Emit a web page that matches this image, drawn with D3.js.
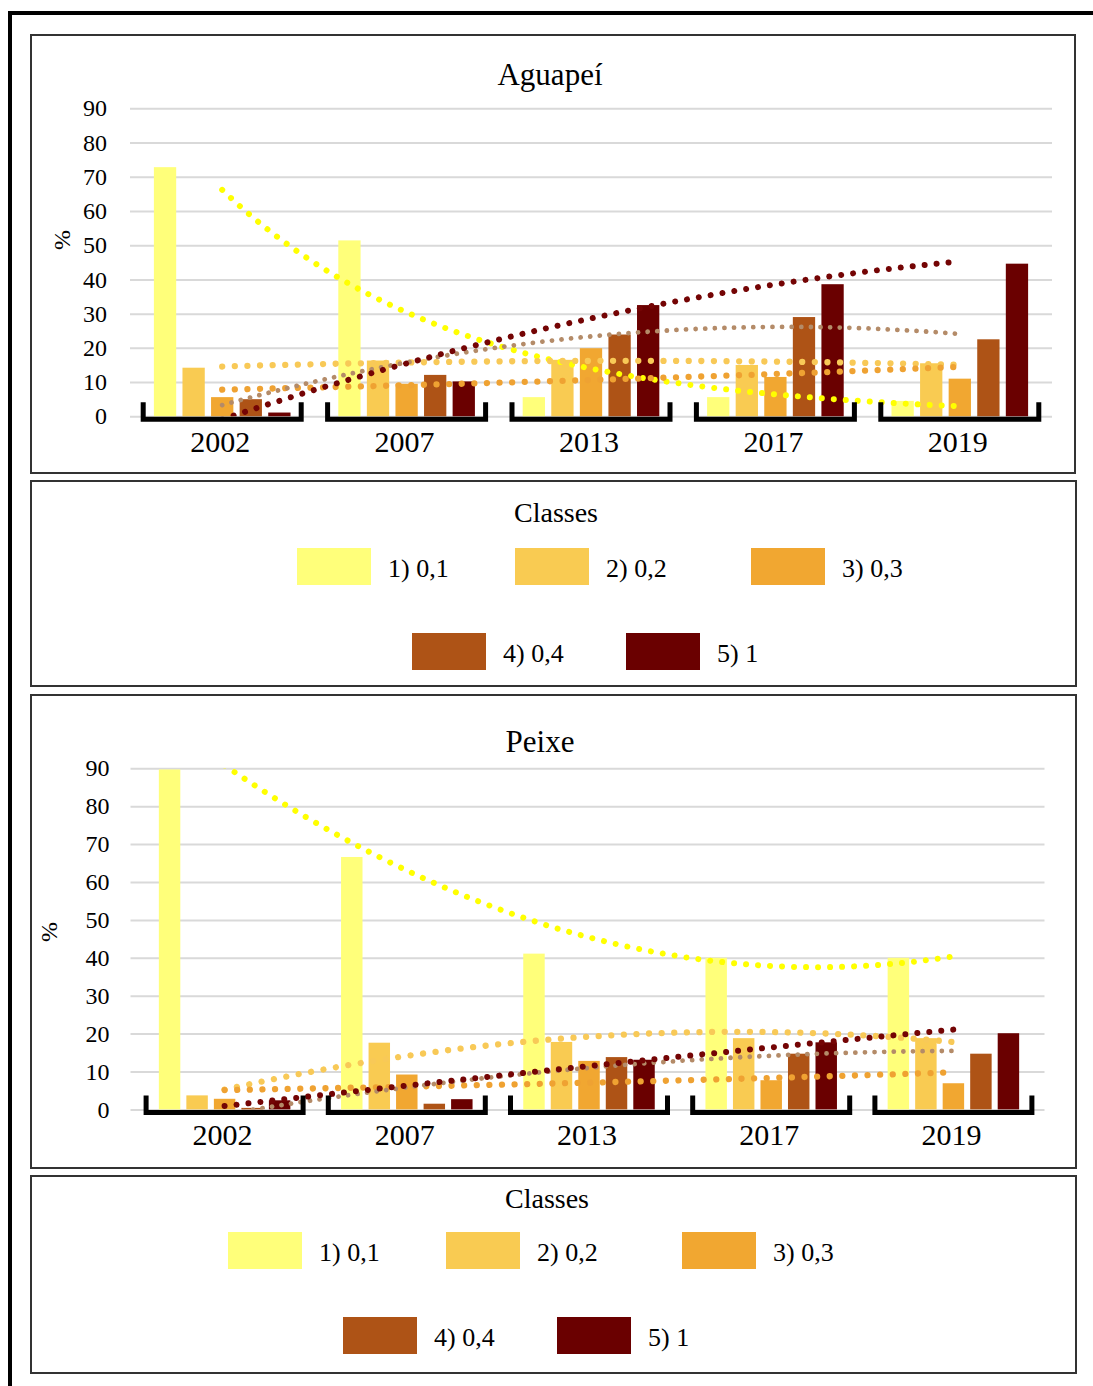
<!DOCTYPE html>
<html>
<head>
<meta charset="utf-8">
<script src="https://cdn.jsdelivr.net/npm/d3@7"></script>
<style>
  body { margin: 0; background: #fff; }
  text { font-family: "Liberation Serif", "Times New Roman", serif; fill: #000; }
</style>
</head>
<body>
<svg id="fig" width="1093" height="1386"></svg>
<script>
// ---- data -------------------------------------------------------------
const years = ["2002", "2007", "2013", "2017", "2019"];
const classes = ["1) 0,1", "2) 0,2", "3) 0,3", "4) 0,4", "5) 1"];
const classColors = ["#FFFF7A", "#F9CB52", "#F1A731", "#AE5316", "#6A0000"];
const trendColors = ["#FFFF00", "#F8C957", "#EFA232", "#B48B68", "#740404"];
const trendWidths = [6, 6.3, 6.3, 4.8, 6];
const yTicks = [0, 10, 20, 30, 40, 50, 60, 70, 80, 90];

// Aguapeí — share (%) of each class per year
const aguapeiClass1 = [72.8, 51.4, 5.6, 5.6, 4.5];
const aguapeiClass2 = [14.2, 16.3, 16.5, 15.0, 15.5];
const aguapeiClass3 = [5.6, 9.5, 19.9, 11.5, 11.0];
const aguapeiClass4 = [5.0, 12.1, 23.9, 29.0, 22.5];
const aguapeiClass5 = [1.1, 10.2, 32.5, 38.6, 44.6];
const aguapeiTrendTypes = ["exp", "poly2", "exp", "poly2", "poly2"];

// Peixe — share (%) of each class per year
const peixeClass1 = [89.7, 66.6, 41.1, 40.0, 40.0];
const peixeClass2 = [3.7, 17.6, 17.8, 18.8, 18.8];
const peixeClass3 = [2.8, 9.2, 12.8, 7.7, 6.9];
const peixeClass4 = [0.4, 1.5, 13.8, 14.7, 14.7];
const peixeClass5 = [2.4, 2.7, 13.1, 17.7, 20.1];
const peixeTrendTypes = ["poly2", "poly2", "exp", "poly2", "poly2"];

// ---- regression helpers (trendlines) ---------------------------------
function linreg(xs, ys) {
  const mx = d3.mean(xs), my = d3.mean(ys);
  let sxy = 0, sxx = 0;
  xs.forEach((x, i) => { sxy += (x - mx) * (ys[i] - my); sxx += (x - mx) ** 2; });
  const b = sxy / sxx;
  return [my - b * mx, b];
}
function solve3(A, r) {
  const M = A.map((row, i) => [...row, r[i]]);
  for (let c = 0; c < 3; c++) {
    let p = c;
    for (let k = c + 1; k < 3; k++) if (Math.abs(M[k][c]) > Math.abs(M[p][c])) p = k;
    [M[c], M[p]] = [M[p], M[c]];
    for (let k = 0; k < 3; k++) {
      if (k === c) continue;
      const f = M[k][c] / M[c][c];
      for (let j = c; j < 4; j++) M[k][j] -= f * M[c][j];
    }
  }
  return M.map((row, i) => row[3] / row[i]);
}
function fitTrend(vals, type) {
  const xs = vals.map((_, i) => i + 1);
  if (type === "exp") {
    const [a, b] = linreg(xs, vals.map(Math.log));
    return t => Math.exp(a + b * t);
  }
  const S = k => d3.sum(xs, x => x ** k);
  const Sy = k => d3.sum(xs, (x, i) => x ** k * vals[i]);
  const [c0, c1, c2] = solve3(
    [[S(0), S(1), S(2)], [S(1), S(2), S(3)], [S(2), S(3), S(4)]],
    [Sy(0), Sy(1), Sy(2)]
  );
  return t => c0 + c1 * t + c2 * t * t;
}

// ---- drawing ------------------------------------------------------------
const svg = d3.select("#fig");

// page frame (thick rule at top and left)
svg.append("rect").attr("x", 8).attr("y", 11).attr("width", 1085).attr("height", 4).attr("fill", "#000");
svg.append("rect").attr("x", 8).attr("y", 11).attr("width", 4).attr("height", 1375).attr("fill", "#000");

function panel(g, x, y, w, h) {
  g.append("rect").attr("x", x).attr("y", y).attr("width", w).attr("height", h)
    .attr("fill", "#fff").attr("stroke", "#333").attr("stroke-width", 2);
}

function drawChart(cfg) {
  const g = svg.append("g");
  panel(g, cfg.box.x, cfg.box.y, cfg.box.w, cfg.box.h);

  const series = cfg.series;
  const y = d3.scaleLinear().domain([0, 90]).range([cfg.plot.bottom, cfg.plot.top]);
  const x0 = d3.scaleBand().domain(years).range([cfg.plot.left, cfg.plot.right]);
  const gw = x0.bandwidth() * cfg.groupFrac;
  const x1 = d3.scaleBand().domain(classes).range([-gw / 2, gw / 2])
    .paddingInner(0.22).paddingOuter(0.11);

  // gridlines + value labels
  const axis = d3.axisLeft(y).tickValues(yTicks)
    .tickSize(-(cfg.plot.right - cfg.plot.left + cfg.gridExtra))
    .tickPadding(cfg.tickPad);
  const ag = g.append("g").attr("transform", `translate(${cfg.plot.left - cfg.gridExtra},0)`).call(axis);
  ag.select(".domain").remove();
  ag.selectAll(".tick line").attr("stroke", "#D9D9D9").attr("stroke-width", 2);
  ag.selectAll(".tick text").attr("font-size", 24).attr("fill", "#000")
    .style("font-family", '"Liberation Serif", serif');

  // bars
  const bg = g.append("g");
  years.forEach((yr, j) => {
    const cx = x0(yr) + x0.bandwidth() / 2;
    classes.forEach((cl, i) => {
      const v = series[i][j];
      bg.append("rect")
        .attr("x", cx + x1(cl))
        .attr("width", x1.bandwidth())
        .attr("y", y(v))
        .attr("height", y(0) - y(v))
        .attr("fill", classColors[i]);
    });
  });

  // trendlines, clipped to the plot area
  const clipId = cfg.id + "-clip";
  g.append("clipPath").attr("id", clipId).append("rect")
    .attr("x", cfg.plot.left).attr("y", y(90))
    .attr("width", cfg.plot.right - cfg.plot.left).attr("height", y(0) - y(90));
  const xt = d3.scaleLinear().domain([1, years.length])
    .range([x0(years[0]) + x0.bandwidth() / 2, x0(years[years.length - 1]) + x0.bandwidth() / 2]);
  const tg = g.append("g").attr("clip-path", `url(#${clipId})`);
  const ts = d3.range(1, 5.0001, 0.02);
  const line = d3.line().x(d => xt(d[0])).y(d => y(d[1]));
  series.forEach((vals, i) => {
    const f = fitTrend(vals, cfg.trendTypes[i]);
    const w = trendWidths[i];
    tg.append("path")
      .attr("d", line(ts.map(t => [t, Math.max(-5, Math.min(95, f(t)))])))
      .attr("fill", "none")
      .attr("stroke", trendColors[i])
      .attr("stroke-width", w)
      .attr("stroke-linecap", "round")
      .attr("stroke-dasharray", `0.01 ${2 * w}`);
  });

  // category brackets + year labels
  const base = y(0);
  years.forEach(yr => {
    const cx = x0(yr) + x0.bandwidth() / 2;
    const half = cfg.bracketHalf;
    g.append("path")
      .attr("d", `M${cx - half},${base - 14}V${base + 3}H${cx + half}V${base - 14}`)
      .attr("fill", "none").attr("stroke", "#000").attr("stroke-width", 5)
      .attr("stroke-linejoin", "miter");
    g.append("text").attr("x", cx - 2).attr("y", base + 36)
      .attr("text-anchor", "middle").attr("font-size", 30).text(yr);
  });

  // title and axis label
  g.append("text").attr("x", cfg.title.x).attr("y", cfg.title.y)
    .attr("text-anchor", "middle").attr("font-size", 31).text(cfg.name);
  g.append("text")
    .attr("transform", `translate(${cfg.ylab.x},${cfg.ylab.y}) rotate(-90)`)
    .attr("text-anchor", "middle").attr("dominant-baseline", "central")
    .attr("font-size", 24).text("%");
}

function drawLegend(box, title, rows) {
  const g = svg.append("g");
  panel(g, box.x, box.y, box.w, box.h);
  g.append("text").attr("x", title.x).attr("y", title.y)
    .attr("text-anchor", "middle").attr("font-size", 28).text("Classes");
  let idx = 0;
  rows.forEach(row => {
    row.xs.forEach(sx => {
      const i = idx++;
      g.append("rect").attr("x", sx).attr("y", row.top).attr("width", 74).attr("height", 37)
        .attr("fill", classColors[i]);
      g.append("text").attr("x", sx + 91).attr("y", row.top + 29)
        .attr("font-size", 26).text(classes[i]);
    });
  });
}

drawChart({
  id: "aguapei", name: "Aguapeí",
  series: [aguapeiClass1, aguapeiClass2, aguapeiClass3, aguapeiClass4, aguapeiClass5],
  trendTypes: aguapeiTrendTypes,
  box: { x: 31, y: 35, w: 1044, h: 438 },
  plot: { left: 130, right: 1052, top: 108.3, bottom: 416.3 },
  gridExtra: 0,
  groupFrac: 0.775, bracketHalf: 79, tickPad: 23,
  title: { x: 550, y: 85 }, ylab: { x: 62, y: 240 }
});
drawLegend({ x: 31, y: 481, w: 1045, h: 205 }, { x: 556, y: 522 },
  [{ top: 548, xs: [297, 515, 751] }, { top: 633, xs: [412, 626] }]);

drawChart({
  id: "peixe", name: "Peixe",
  series: [peixeClass1, peixeClass2, peixeClass3, peixeClass4, peixeClass5],
  trendTypes: peixeTrendTypes,
  box: { x: 31, y: 695, w: 1045, h: 473 },
  plot: { left: 133.5, right: 1044.5, top: 768.3, bottom: 1109.4 },
  gridExtra: 3,
  groupFrac: 0.755, bracketHalf: 78.5, tickPad: 21,
  title: { x: 540, y: 752 }, ylab: { x: 49, y: 932 }
});
drawLegend({ x: 31, y: 1176, w: 1045, h: 197 }, { x: 547, y: 1208 },
  [{ top: 1232, xs: [228, 446, 682] }, { top: 1317, xs: [343, 557] }]);
</script>
</body>
</html>
